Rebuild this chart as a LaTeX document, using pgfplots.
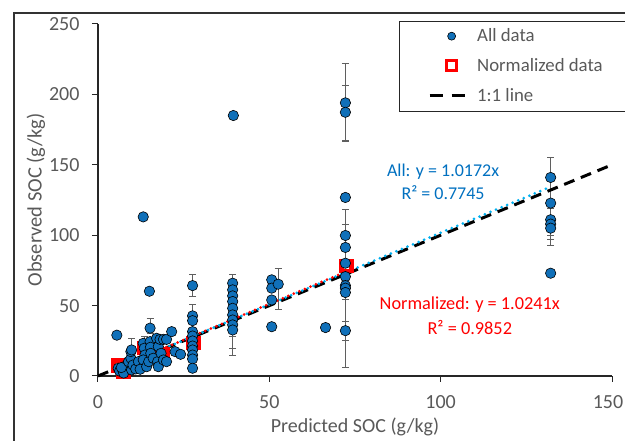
\documentclass[border=0pt]{standalone}
\usepackage{fontspec}
\setmainfont{Carlito}
\usepackage{pgfplots}
\pgfplotsset{compat=1.18}
\usetikzlibrary{calc}
\definecolor{ptblue}{RGB}{16,112,185}
\definecolor{trblue}{RGB}{0,176,240}
\definecolor{txtblue}{RGB}{0,112,192}
\definecolor{axgray}{RGB}{89,89,89}
\definecolor{ebgray}{RGB}{95,95,95}
\pgfplotsset{
 legcirc/.style={legend image code/.code={\draw[fill=ptblue, draw=black, line width=0.6pt] (22pt,0pt) circle (4pt);}},
 legsq/.style={legend image code/.code={\draw[fill=white, draw=red, line width=3.5pt] (17pt,-5pt) rectangle (27pt,5pt);}},
 legline/.style={legend image code/.code={\draw[black, line width=3pt, dash pattern=on 13pt off 9pt] (0pt,0pt) -- (44pt,0pt);}},
}
\begin{document}
\begin{tikzpicture}
\path[use as bounding box] (-98pt,-65pt) rectangle ++(625pt,441pt);
\begin{axis}[
 at={(0pt,0pt)}, anchor=south west,
 scale only axis, width=514pt, height=352pt,
 xmin=0, xmax=150, ymin=0, ymax=250,
 enlargelimits=false,
 axis lines=left, axis line style={-, line width=1.3pt, black!85},
 xtick={0,50,100,150}, ytick={0,50,100,150,200,250},
 xticklabels={0,50,100,{\kern-8pt 150}},
 tick align=outside, major tick length=6pt, tick style={line width=1pt, black!85},
 ticklabel style={font=\fontsize{20}{20}\selectfont, text=axgray},
 xticklabel style={yshift=-10pt},
 yticklabel style={xshift=-9pt},
 /pgf/number format/assume math mode=true,
 xlabel={Predicted SOC (g/kg)}, ylabel={Observed SOC (g/kg)},
 every axis x label/.style={at={(rel axis cs:0.5,-0.145)}, anchor=center, font=\fontsize{20}{20}\selectfont, text=axgray},
 every axis y label/.style={at={(rel axis cs:-0.1206,0.5)}, rotate=90, anchor=center, font=\fontsize{20.5}{20.5}\selectfont, text=axgray},
 clip=false,
 legend style={at={(axis cs:95.7,249.5)}, anchor=north west, draw=none, fill=none,
   font=\fontsize{18.8}{18.8}\selectfont, text=axgray, row sep=11pt, inner sep=2pt},
 legend cell align=left,
]
\addlegendimage{legcirc}
\addlegendentry{All data}
\addlegendimage{legsq}
\addlegendentry{Normalized data}
\addlegendimage{legline}
\addlegendentry{1:1 line}

% error bars
\addplot[only marks, mark=none, forget plot,
  error bars/.cd, y dir=both, y explicit,
  error bar style={draw=ebgray, line width=1pt, solid},
  error mark options={draw=ebgray, rotate=90, mark size=3.5pt, line width=1pt, solid}]
 table[x=x, y=y, y error plus=ep, y error minus=em] {
x y ep em
9.8 18.5 8.3 3
13.7 23.2 5.2 3
13.2 113 1.5 1.5
15.2 34 7 4
27.6 64.2 7.6 7.4
27.6 42.7 7.8 4
39.3 65.9 6.4 37.9
39.3 48.1 6 28.4
39.3 36.3 5 21.4
52.6 65.2 10.9 18.2
72.2 194 28 27.4
72.2 187.3 19.2 20.3
72.2 99.8 18.2 45.8
72.2 91.3 16.1 52.7
72.2 62.4 15.3 37.5
72.2 59.3 18.4 53.1
132.1 141 14 22
132.1 111 8 11
132.1 107.9 5 11.2
132.1 105 4 12
};

% normalized data
\addplot[only marks, mark=square*, mark size=5pt, forget plot,
  mark options={fill=white, draw=red, line width=4.5pt}]
 table {
x y
6 7.5
7.5 3
13.5 20
19 15.5
27.8 23.4
72.5 78
};

% all data
\addplot[only marks, mark=*, mark size=5.2pt, forget plot,
  mark options={fill=ptblue, draw=black, line width=0.6pt}]
 table {
x y
5.5 29
5.9 5.5
6.3 3.5
7.4 3.1
7.5 2.1
8.4 7.8
6.8 6.0
8.9 10.2
9.6 12.6
9.6 17.3
9.8 18.5
9.8 4.3
10.2 7.8
11.0 5.0
11.8 10.2
12.3 4.8
13.2 23.2
13.5 19.7
13.7 14.9
13.2 11.4
13.2 113
14.2 6.6
14.8 10.2
15.0 60.2
15.2 34
15.2 24.4
15.3 20.4
15.4 16.1
16.1 12.6
17.1 26.8
17.6 20.9
17.4 10.2
17.6 6.6
18.1 26.0
18.4 16.1
19.1 26.0
19.1 11.4
20.0 26.0
20.0 10.2
21.5 31.5
22.5 17.3
24.1 15.4
27.6 64.2
27.6 42.7
27.6 39.3
27.6 31.5
27.6 28.4
27.6 24.9
27.6 21.3
27.6 18.5
27.6 14.9
27.6 12.1
27.6 5.5
39.3 65.9
39.3 61.2
39.3 56.9
39.3 52.9
39.3 48.1
39.3 43.4
39.3 39.8
39.3 36.3
39.3 32.7
39.5 185
50.7 68.3
50.7 62.4
50.7 54
50.7 35
52.6 65.2
66.4 34.4
72.2 194
72.2 187.3
72.2 126.8
72.2 99.8
72.2 91.3
72.2 80.1
72.2 70.6
72.2 64.2
72.2 62.4
72.2 59.3
72.2 32.2
132.1 141
132.1 122.8
132.1 111
132.1 107.9
132.1 105
132.1 73
};

% 1:1 line
\addplot[black, line width=3pt, dash pattern=on 11pt off 7pt, forget plot] coordinates {(0,0) (150,150)};
% normalized trend
\addplot[red, line width=3pt, line cap=round, dash pattern=on 0pt off 6pt, forget plot] coordinates {(5.5,5.63) (72.5,74.25)};
% all trend
\addplot[trblue, line width=3pt, line cap=round, dash pattern=on 0pt off 6pt, dash phase=3pt, forget plot] coordinates {(5.5,5.59) (132.1,134.37)};

\node[text=txtblue, font=\fontsize{18}{18}\selectfont] at (axis cs:100.7,145) {All: y = 1.0172x};
\node[text=txtblue, font=\fontsize{18}{18}\selectfont] at (axis cs:100.7,130) {R² = 0.7745};
\node[text=red, font=\fontsize{18.3}{18.3}\selectfont] at (axis cs:108.5,50.5) {Normalized: y = 1.0241x};
\node[text=red, font=\fontsize{18.3}{18.3}\selectfont] at (axis cs:108.5,34.1) {R² = 0.9852};

\draw[line width=1.2pt, black!85] (axis cs:88.1,251.8) rectangle (axis cs:156,187.8);
\end{axis}
\draw[line width=1.6pt, black!80] (-84pt,-80pt) -- (-84pt,363pt) -- (540pt,363pt);
\end{tikzpicture}
\end{document}
